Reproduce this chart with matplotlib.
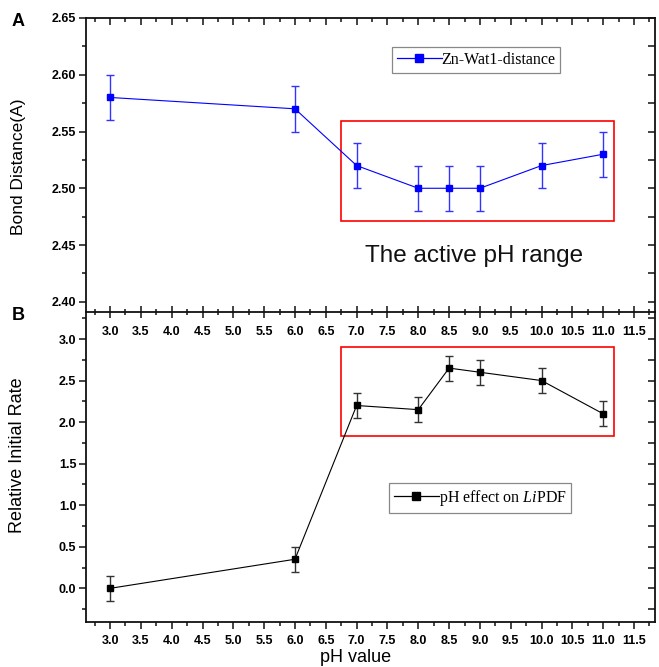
import matplotlib
matplotlib.use("Agg")
import matplotlib.pyplot as plt
from matplotlib.patches import Rectangle
from matplotlib.lines import Line2D
from matplotlib.ticker import MultipleLocator

plt.rcParams['font.family'] = ['Liberation Sans', 'DejaVu Sans']
plt.rcParams['mathtext.fontset'] = 'custom'
plt.rcParams['mathtext.rm'] = 'Liberation Serif'
plt.rcParams['mathtext.it'] = 'Liberation Serif:italic'

# ---- data ----
ph = [3.0, 6.0, 7.0, 8.0, 8.5, 9.0, 10.0, 11.0]
bond_dist = [2.58, 2.57, 2.52, 2.50, 2.50, 2.50, 2.52, 2.53]
bond_err = [0.02, 0.02, 0.02, 0.02, 0.02, 0.02, 0.02, 0.02]
rate = [0.0, 0.35, 2.20, 2.15, 2.65, 2.60, 2.50, 2.10]
rate_err = [0.15, 0.15, 0.15, 0.15, 0.15, 0.15, 0.15, 0.15]
x_ticks = [3.0, 3.5, 4.0, 4.5, 5.0, 5.5, 6.0, 6.5, 7.0, 7.5, 8.0, 8.5, 9.0, 9.5, 10.0, 10.5, 11.0, 11.5]
top_yticks = [2.40, 2.45, 2.50, 2.55, 2.60, 2.65]
bot_yticks = [0.0, 0.5, 1.0, 1.5, 2.0, 2.5, 3.0]
# highlight boxes (x0, x1, y0, y1) in data units
box_top = (6.74, 11.17, 2.4714, 2.559)
box_bot = (6.74, 11.17, 1.836, 2.907)

W, H = 659, 667
fig = plt.figure(figsize=(W / 100, H / 100), dpi=100)
L, R = 86 / W, 655 / W
y_top, y_mid, y_bot = 1 - 18 / H, 1 - 312 / H, 1 - 622 / H
ax2 = fig.add_axes([L, y_bot, R - L, y_mid - y_bot])
ax1 = fig.add_axes([L, y_mid, R - L, y_top - y_mid])
ax1.set_zorder(3)
ax1.patch.set_alpha(0)

XLIM = (2.61, 11.84)
tick_font = dict(fontsize=9, fontweight='bold')

for ax in (ax1, ax2):
    ax.set_xlim(*XLIM)
    ax.set_xticks(x_ticks)
    ax.xaxis.set_minor_locator(MultipleLocator(0.25))
    for s in ax.spines.values():
        s.set_linewidth(1.3)
        s.set_color('#111111')
    ax.tick_params(which='both', width=1.1, color='#111111')
    ax.tick_params(which='major', length=5)
    ax.tick_params(which='minor', length=3)

# ---- top panel ----
ax1.errorbar(ph, bond_dist, yerr=bond_err, color='#0000ff', ecolor='#3333ff',
             elinewidth=1.0, capsize=3, capthick=1.0, marker='s', markersize=5,
             linewidth=0.8)
ax1.set_ylim(2.391, 2.65)
ax1.set_yticks(top_yticks)
ax1.yaxis.set_minor_locator(MultipleLocator(0.025))
ax1.tick_params(axis='x', which='both', direction='inout', bottom=True, top=False,
                labelbottom=True, pad=6)
ax1.tick_params(axis='x', which='major', length=8)
ax1.tick_params(axis='x', which='minor', length=5)
ax1.tick_params(axis='y', which='both', direction='out', left=True, right=False, pad=2)
ax1.set_xticklabels([f'{v:.1f}' for v in x_ticks], **tick_font)
ax1.set_yticklabels([f'{v:.2f}' for v in top_yticks], **tick_font)
ax1t = ax1.secondary_xaxis('top')
ax1t.set_xticks(x_ticks)
ax1t.xaxis.set_minor_locator(MultipleLocator(0.25))
ax1t.tick_params(which='both', direction='in', labeltop=False, width=1.1, color='#111111')
ax1t.tick_params(which='major', length=5)
ax1t.tick_params(which='minor', length=3)
ax1t.spines['top'].set_visible(False)
ax1r = ax1.secondary_yaxis('right')
ax1r.set_yticks(top_yticks)
ax1r.yaxis.set_minor_locator(MultipleLocator(0.025))
ax1r.tick_params(which='both', direction='in', labelright=False, width=1.1, color='#111111')
ax1r.tick_params(which='major', length=5)
ax1r.tick_params(which='minor', length=5)
ax1r.spines['right'].set_visible(False)

ax1.add_patch(Rectangle((box_top[0], box_top[2]), box_top[1] - box_top[0],
                        box_top[3] - box_top[2], fill=False, edgecolor='#ff0000',
                        linewidth=1.2, zorder=1))
ax1.text((box_top[0] + box_top[1]) / 2 - 0.05, 2.4405, 'The active pH range',
         fontsize=17.5, ha='center', va='center', color='#111111')
ax1.set_ylabel('Bond Distance(A)', fontsize=12.5)
ax1.yaxis.set_label_coords(-0.106, 0.495)
h1 = Line2D([], [], color='#0000ff', marker='s', markersize=6, linewidth=0.9)
leg1 = ax1.legend([h1], ['Zn-Wat1-distance'], loc='upper left',
                  bbox_to_anchor=(0.538, 0.901), borderaxespad=0,
                  prop={'family': 'Liberation Serif', 'size': 11.5}, handlelength=2.8,
                  handletextpad=0.0, fancybox=False, framealpha=1, borderpad=0.3,
                  edgecolor='#888888')
leg1.get_frame().set_linewidth(0.9)

# ---- bottom panel ----
ax2.errorbar(ph, rate, yerr=rate_err, color='#000000', ecolor='#333333',
             elinewidth=1.0, capsize=3, capthick=1.0, marker='s', markersize=5,
             linewidth=0.8)
ax2.set_ylim(-0.405, 3.325)
ax2.set_yticks(bot_yticks)
ax2.yaxis.set_minor_locator(MultipleLocator(0.25))
ax2.tick_params(axis='x', which='both', direction='out', top=False, pad=4)
ax2.tick_params(axis='y', which='both', direction='out', left=True, right=False, pad=2)
ax2.spines['top'].set_visible(False)
ax2.set_xticklabels([f'{v:.1f}' for v in x_ticks], **tick_font)
ax2.set_yticklabels([f'{v:.1f}' for v in bot_yticks], **tick_font)
ax2r = ax2.secondary_yaxis('right')
ax2r.set_yticks(bot_yticks)
ax2r.yaxis.set_minor_locator(MultipleLocator(0.25))
ax2r.tick_params(which='both', direction='in', labelright=False, width=1.1, color='#111111')
ax2r.tick_params(which='major', length=5)
ax2r.tick_params(which='minor', length=5)
ax2r.spines['right'].set_visible(False)
ax2.add_patch(Rectangle((box_bot[0], box_bot[2]), box_bot[1] - box_bot[0],
                        box_bot[3] - box_bot[2], fill=False, edgecolor='#ff0000',
                        linewidth=1.2, zorder=1))
ax2.set_ylabel('Relative Initial Rate', fontsize=13)
ax2.yaxis.set_label_coords(-0.106, 0.539)
ax2.set_xlabel('pH value', fontsize=13)
ax2.xaxis.set_label_coords(0.473, -0.088)
h2 = Line2D([], [], color='#000000', marker='s', markersize=6, linewidth=0.9)
leg2 = ax2.legend([h2], [r'pH effect on $\mathit{Li}$PDF'], loc='upper left',
                  bbox_to_anchor=(0.5325, 0.448), borderaxespad=0,
                  prop={'family': 'Liberation Serif', 'size': 11.5}, handlelength=2.8,
                  handletextpad=0.0, fancybox=False, framealpha=1, borderpad=0.3,
                  edgecolor='#888888')
leg2.get_frame().set_linewidth(0.9)

fig.text(18 / W, 1 - 22 / H, 'A', fontsize=13, fontweight='bold', ha='center', va='center')
fig.text(18 / W, 1 - 316 / H, 'B', fontsize=13, fontweight='bold', ha='center', va='center')

fig.savefig('out.png', dpi=100)
